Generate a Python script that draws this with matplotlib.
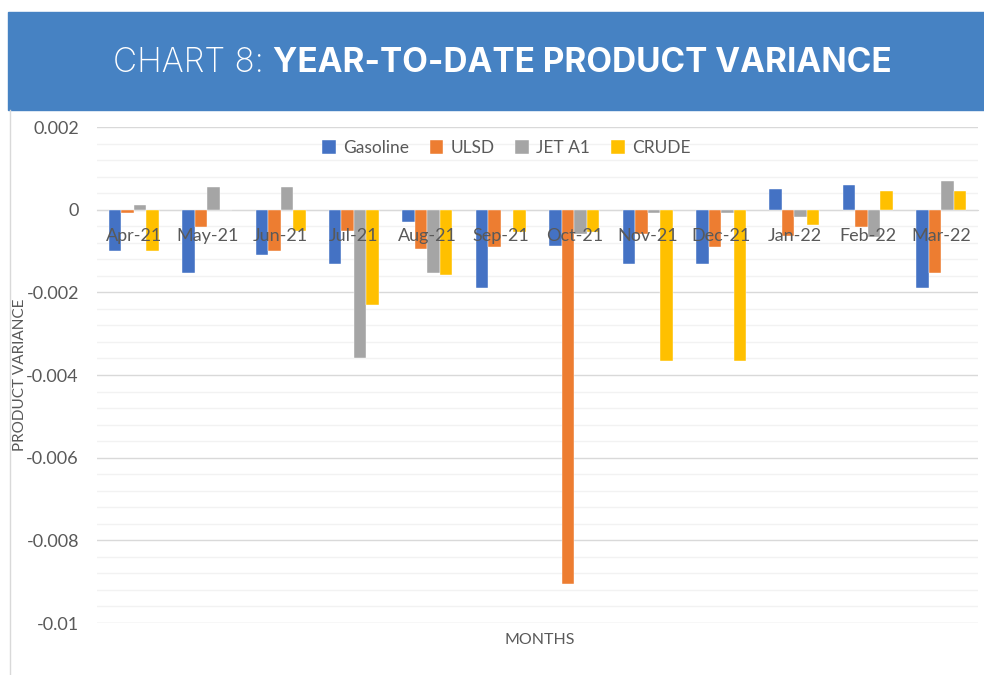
import numpy as np
import matplotlib.pyplot as plt
from matplotlib.patches import Rectangle
from matplotlib.lines import Line2D

months = ['Apr-21', 'May-21', 'Jun-21', 'Jul-21', 'Aug-21', 'Sep-21',
          'Oct-21', 'Nov-21', 'Dec-21', 'Jan-22', 'Feb-22', 'Mar-22']
gasoline = [-0.00100, -0.00153, -0.00110, -0.00132, -0.00030, -0.00190,
            -0.00089, -0.00132, -0.00132, 0.00050, 0.00059, -0.00190]
ulsd = [-0.00008, -0.00042, -0.00100, -0.00051, -0.00094, -0.00090,
        -0.00905, -0.00060, -0.00090, -0.00063, -0.00042, -0.00153]
jet_a1 = [0.00012, 0.00055, 0.00055, -0.00360, -0.00153, -0.00002,
          -0.00060, -0.00008, -0.00008, -0.00017, -0.00066, 0.00070]
crude = [-0.00100, -0.00002, -0.00052, -0.00231, -0.00158, -0.00054,
         -0.00055, -0.00367, -0.00367, -0.00037, 0.00044, 0.00044]

series = [('Gasoline', gasoline, '#4472C4'),
          ('ULSD', ulsd, '#ED7D31'),
          ('JET A1', jet_a1, '#A5A5A5'),
          ('CRUDE', crude, '#FFC000')]

plt.rcParams['font.family'] = ['Lato', 'DejaVu Sans']
txt = '#595959'

fig = plt.figure(figsize=(9.84, 6.75), dpi=100)

# bandeau du titre
fig.patches.append(Rectangle((8 / 984, 1 - 110 / 675), 1, 98 / 675,
                             transform=fig.transFigure, color='#4682C3', zorder=0))
fig.lines.append(Line2D([10 / 984, 10 / 984], [0, 1 - 110 / 675],
                        transform=fig.transFigure, color='#D9D9D9', lw=1))

# titre en deux graisses, centré sur x=502
t1 = fig.text(0, 1 - 72 / 675, 'CHART 8: ', color='white', fontsize=24,
              family='Inter', fontweight='light', va='baseline', ha='left')
t2 = fig.text(0, 1 - 72 / 675, 'YEAR-TO-DATE PRODUCT VARIANCE', color='white',
              fontsize=24, family='Inter', fontweight='bold', va='baseline', ha='left')
fig.canvas.draw()
w1 = t1.get_window_extent().width
w2 = t2.get_window_extent().width
x0 = 502 - (w1 + w2) / 2
t1.set_x(x0 / 984)
t2.set_x((x0 + w1) / 984)

ax = fig.add_axes([97 / 984, 1 - 623 / 675, 881 / 984, (623 - 127) / 675])

x = np.arange(len(months))
w = 0.17
for j, (name, vals, col) in enumerate(series):
    ax.bar(x + (j - 1.5) * w, vals, w, color=col, label=name, zorder=3,
           edgecolor='white', linewidth=0.3)

ax.set_xlim(-0.5, len(months) - 0.5)
ax.set_ylim(-0.01, 0.002)
ax.set_yticks(np.arange(-0.01, 0.0021, 0.002))
ax.set_yticks(np.arange(-0.01, 0.0021, 0.0004), minor=True)
ax.set_yticklabels(['-0.01', '-0.008', '-0.006', '-0.004', '-0.002', '0', '0.002'])
ax.grid(axis='y', which='major', color='#D9D9D9', lw=1, zorder=0)
ax.grid(axis='y', which='minor', color='#F2F2F2', lw=1, zorder=0)
ax.tick_params(axis='y', which='both', length=0, labelsize=13, labelcolor=txt, pad=13)

for s in ['top', 'right', 'left']:
    ax.spines[s].set_visible(False)
ax.spines['bottom'].set_position(('data', 0))
ax.spines['bottom'].set_color('#D9D9D9')
ax.set_xticks([])

# étiquettes des mois par-dessus les barres
for i, m in enumerate(months):
    ax.annotate(m, (i, 0), xytext=(0, -19), textcoords='offset points',
                ha='center', va='center', fontsize=13, color=txt, zorder=6)

fig.text(20 / 984, 1 - 375 / 675, 'PRODUCT VARIANCE', rotation=90, color=txt,
         fontsize=11, ha='center', va='center')
fig.text(540 / 984, 1 - 640 / 675, 'MONTHS', color=txt, fontsize=11.5,
         ha='center', va='center')

ax.legend(loc='center', bbox_to_anchor=(506 / 984, 1 - 148 / 675),
          bbox_transform=fig.transFigure, ncol=4, frameon=False, fontsize=12.5,
          labelcolor=txt, handlelength=0.8, handleheight=0.8, handletextpad=0.4,
          columnspacing=1.2)

fig.savefig('out.png', dpi=100)
